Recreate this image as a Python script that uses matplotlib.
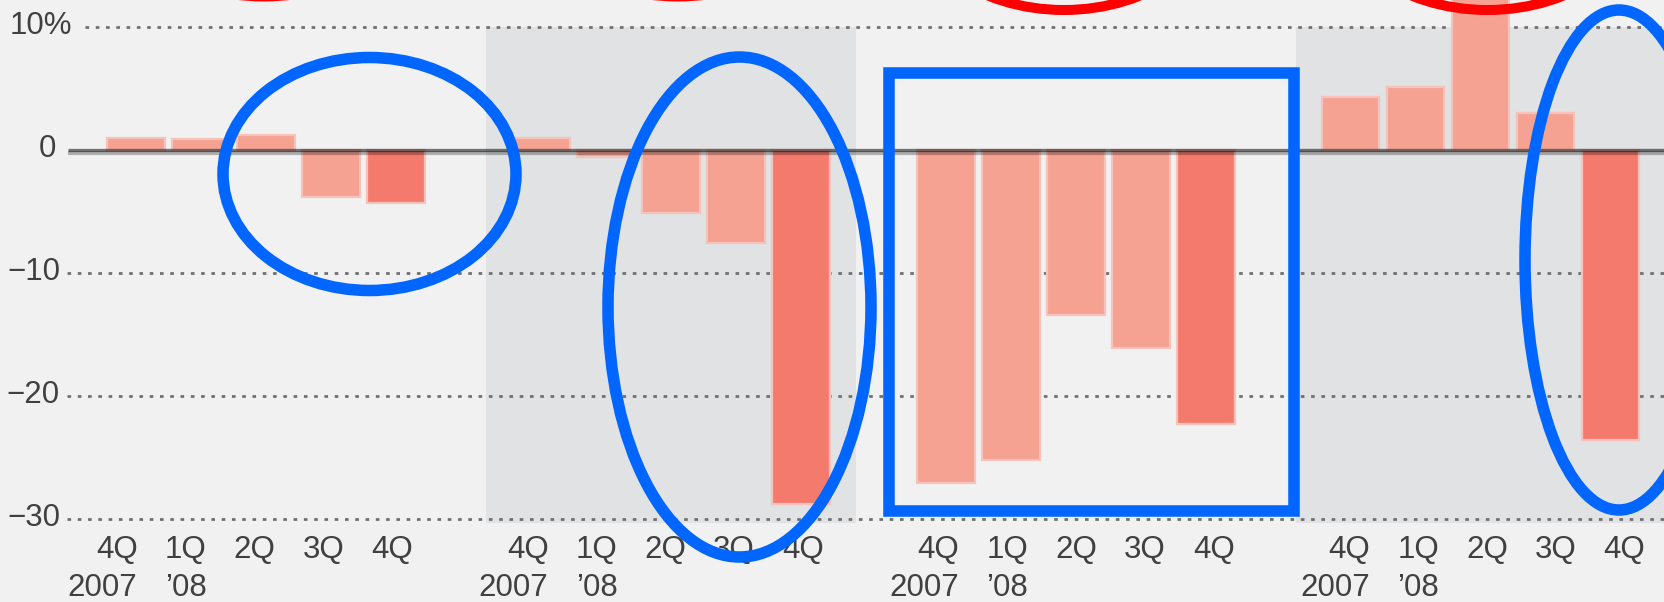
import matplotlib
matplotlib.use('Agg')
import matplotlib.pyplot as plt
from matplotlib.patches import Ellipse, Rectangle


plt.rcParams['font.family'] = ['Liberation Sans', 'DejaVu Sans']

# chart data (percent change)
quarters = ['4Q', '1Q', '2Q', '3Q', '4Q']
years = ['2007', '\u201908', '', '', '']
ytick_vals = [10, 0, -10, -20, -30]
ytick_labels = ['10%', '0', '\u221210', '\u221220', '\u221230']
panel1 = [1.0, 0.9, 1.2, -3.8, -4.3]
panel2 = [1.0, -0.6, -5.1, -7.6, -28.8]
panel3 = [-27.1, -25.2, -13.4, -16.1, -22.3]
panel4 = [4.3, 5.1, 14.0, 3.0, -23.6]
panels = [panel1, panel2, panel3, panel4]
shaded = [False, True, False, True]

# colours
bg = '#f1f1f1'
shade = '#e1e2e3'
light_bar = '#f6a292'
dark_bar = '#f47a6d'
halo = '#f5c3bc'
txt = '#404040'
blue = '#0066ff'
red = '#ff0000'

# pixel <-> data helpers (figure is 1664 x 602 px)
def dx(p):
    return (p - 136) / 65.0

def dy(p):
    return (150 - p) / 12.3

group_step = 6.23
fs = 22.5

fig = plt.figure(figsize=(16.64, 6.02), dpi=100)
fig.patch.set_facecolor(bg)
ax = fig.add_axes([0, 0, 1, 1])
ax.set_facecolor(bg)
ax.set_xlim(dx(0), dx(1664))
ax.set_ylim(dy(602), dy(0))
ax.axis('off')

# shaded panels
for g in range(len(panels)):
    if shaded[g]:
        x0 = g * group_step - 0.85
        ax.add_patch(Rectangle((x0, -30.3), 5.7, 40.3, facecolor=shade,
                               edgecolor='none', zorder=0))

# dotted grid
for v in ytick_vals:
    if v == 0:
        continue
    start = dx(85) if v == 10 else dx(67)
    ax.plot([start, dx(1700)], [v, v], color='#707070', lw=2.0,
            linestyle=(0, (1.3, 2.4)), zorder=1, solid_capstyle='butt')

# bars
for g, vals in enumerate(panels):
    xs = [g * group_step + i for i in range(len(vals))]
    cols = [dark_bar if i == 4 else light_bar for i in range(len(vals))]
    ax.bar(xs, vals, width=0.88, color=cols, edgecolor=halo, linewidth=1.6,
           zorder=2)

# zero line
ax.plot([dx(68), dx(1700)], [0.04, 0.04], color='black', alpha=0.52, lw=2.4,
        zorder=3, solid_capstyle='butt')
ax.plot([dx(68), dx(1700)], [-0.26, -0.26], color='black', alpha=0.27, lw=3.0,
        zorder=3, solid_capstyle='butt')

# y labels
label_right = [72, 56, 60, 60, 60]
for v, lab, r in zip(ytick_vals, ytick_labels, label_right):
    ax.text(dx(r), v + 0.1, lab, ha='right', va='center', fontsize=fs,
            color=txt, zorder=4)

# x labels
for g in range(len(panels)):
    for k, (q, yr) in enumerate(zip(quarters, years)):
        lx = dx(117) + g * 6.32 + k * 1.058
        ax.text(lx, dy(535), q, ha='center', va='top', fontsize=fs,
                color=txt, zorder=4)
        if yr:
            shift = -0.22 if k == 0 else 0.0
            ax.text(lx + shift, dy(573), yr, ha='center', va='top',
                    fontsize=fs, color=txt, zorder=4)

# annotation overlay in pixel space
ov = fig.add_axes([0, 0, 1, 1])
ov.set_xlim(0, 1664)
ov.set_ylim(602, 0)
ov.axis('off')
ov.patch.set_alpha(0)

blue_lw = 8.3
red_lw = 7.2
ov.add_patch(Ellipse((369.5, 174), 293, 233, fill=False, ec=blue, lw=blue_lw))
ov.add_patch(Ellipse((739.5, 307), 263, 500, fill=False, ec=blue, lw=blue_lw))
ov.add_patch(Rectangle((889, 73), 404.5, 438, fill=False, ec=blue, lw=blue_lw,
                       joinstyle='miter'))
ov.add_patch(Ellipse((1619, 260), 188, 500, fill=False, ec=blue, lw=blue_lw))

for cx, cy in [(264, -123.5), (678, -123.5), (1064, -110), (1487.5, -110)]:
    ov.add_patch(Ellipse((cx, cy), 320, 240, fill=False, ec=red, lw=red_lw))

fig.savefig('out.png', dpi=100, facecolor=fig.get_facecolor())
